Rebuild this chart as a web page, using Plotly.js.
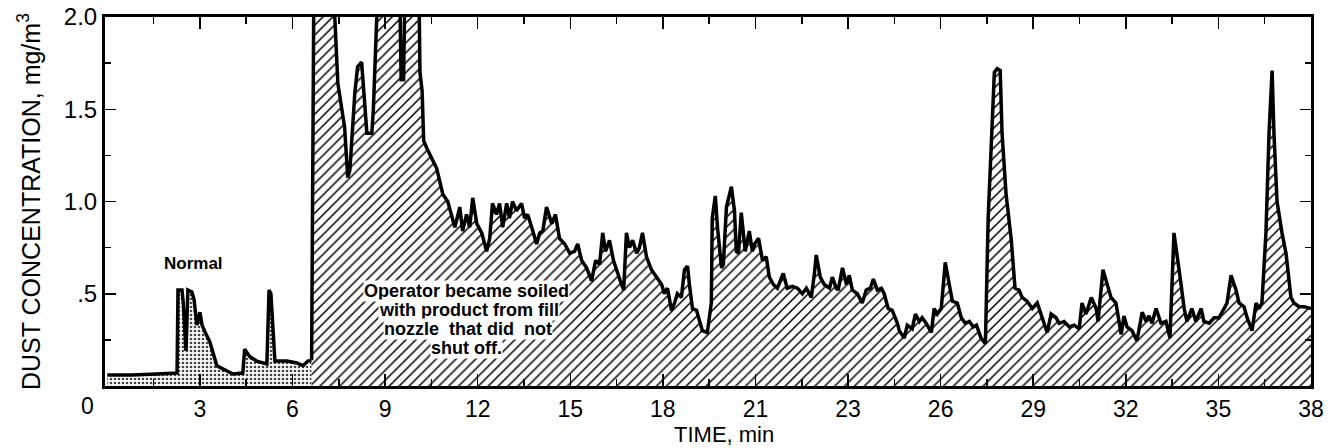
<!DOCTYPE html>
<html>
<head>
<meta charset="utf-8">
<script src="https://cdn.plot.ly/plotly-3.0.1.min.js"></script>
<style>html,body{margin:0;padding:0;background:#fff;}#chart{width:1335px;height:448px;}</style>
</head>
<body>
<div id="chart"></div>
<script>
// Normal operation (stippled) - time in axis positions, concentration mg/m3
const normalTime = [0, 0.8, 1.6, 2.26, 2.29, 2.42, 2.46, 2.55, 2.61, 2.74, 2.81, 2.90, 3.00, 3.07, 3.20, 3.32, 3.55, 4.07, 4.39, 4.45, 4.61, 4.84, 5.17, 5.24, 5.30, 5.43, 5.82, 6.14, 6.34, 6.50, 6.62];
const normalConc = [0.06, 0.06, 0.065, 0.07, 0.52, 0.52, 0.45, 0.19, 0.52, 0.51, 0.47, 0.33, 0.40, 0.33, 0.28, 0.24, 0.11, 0.065, 0.07, 0.20, 0.16, 0.135, 0.12, 0.52, 0.50, 0.135, 0.135, 0.125, 0.11, 0.135, 0.14];

// Operator soiled with product (hatched)
const soiledTime = [6.62, 6.70, 7.30, 7.37, 7.47, 7.60, 7.69, 7.79, 7.86, 8.02, 8.11, 8.24, 8.34, 8.41, 8.57, 8.62, 8.73, 8.80, 9.45, 9.52, 9.60, 9.66, 10.08, 10.13, 10.20, 10.25,
  10.35, 10.51, 10.67, 10.77, 10.87, 11.03, 11.16, 11.26, 11.42, 11.51, 11.64, 11.74, 11.84, 11.97, 12.13, 12.29, 12.39, 12.48, 12.61, 12.71, 12.81, 12.94, 13.03, 13.13,
  13.26, 13.42, 13.52, 13.62, 13.75, 13.91, 14.01, 14.11, 14.23, 14.40, 14.52, 14.65, 14.82, 14.98, 15.14, 15.24, 15.37, 15.53, 15.69, 15.82, 15.95, 16.05, 16.14, 16.27,
  16.40, 16.53, 16.66, 16.73, 16.82, 16.92, 17.02, 17.15, 17.24, 17.34, 17.47, 17.63, 17.79, 17.96, 18.05, 18.15, 18.28, 18.38, 18.47, 18.60, 18.70, 18.80, 18.86, 18.96,
  19.09, 19.19, 19.28, 19.44, 19.57, 19.60, 19.70, 19.77, 19.90, 19.96, 20.06, 20.22, 20.32, 20.38, 20.45, 20.54, 20.61, 20.67, 20.80, 20.90, 20.97, 21.10, 21.23, 21.35,
  21.45, 21.58, 21.71, 21.90, 22.03, 22.19, 22.36, 22.52, 22.65, 22.81, 22.91, 22.97, 23.10, 23.23, 23.40, 23.49, 23.62, 23.68, 23.82, 23.95, 24.04, 24.14, 24.30, 24.46,
  24.59, 24.72, 24.82, 24.95, 25.08, 25.17, 25.30, 25.43, 25.60, 25.66, 25.82, 25.92, 26.08, 26.18, 26.31, 26.40, 26.53, 26.70, 26.79, 26.89, 27.02, 27.15, 27.28, 27.38,
  27.54, 27.67, 27.80, 27.93, 28.06, 28.16, 28.31, 28.45, 28.54, 28.64, 28.74, 28.83, 28.93, 28.99, 29.12, 29.29, 29.41, 29.54, 29.64, 29.80, 29.97, 30.13, 30.29, 30.45,
  30.58, 30.74, 30.84, 31.00, 31.17, 31.33, 31.49, 31.58, 31.71, 31.88, 32.04, 32.10, 32.26, 32.39, 32.52, 32.68, 32.85, 32.94, 33.04, 33.20, 33.36, 33.53, 33.66, 33.75,
  33.85, 33.98, 34.14, 34.30, 34.43, 34.56, 34.66, 34.79, 34.89, 34.98, 35.14, 35.27, 35.44, 35.53, 35.70, 35.86, 36.02, 36.18, 36.28, 36.41, 36.57, 36.67, 36.83, 36.93,
  37.09, 37.22, 37.32, 37.41, 37.54, 37.64, 37.74, 37.80, 37.90, 38.06, 38.19, 38.35, 38.45, 38.61, 38.77, 39.0];
const soiledConc = [0.14, 2.4, 2.4, 2.0, 1.64, 1.49, 1.40, 1.13, 1.17, 1.59, 1.73, 1.755, 1.55, 1.37, 1.37, 1.50, 2.0, 2.4, 2.4, 1.66, 1.66, 2.4, 2.4, 1.70, 1.60, 1.33,
  1.29, 1.24, 1.18, 1.11, 1.04, 1.00, 0.91, 0.86, 0.97, 0.84, 0.93, 0.86, 1.02, 0.88, 0.83, 0.73, 0.80, 0.99, 0.93, 0.99, 0.86, 0.99, 0.91, 1.00,
  0.95, 0.99, 0.91, 0.93, 0.86, 0.77, 0.83, 0.84, 0.97, 0.88, 0.93, 0.80, 0.77, 0.72, 0.73, 0.77, 0.68, 0.64, 0.57, 0.68, 0.66, 0.83, 0.73, 0.79,
  0.68, 0.61, 0.55, 0.52, 0.83, 0.75, 0.79, 0.72, 0.75, 0.83, 0.70, 0.63, 0.59, 0.55, 0.50, 0.53, 0.41, 0.45, 0.50, 0.48, 0.63, 0.65, 0.55, 0.42,
  0.41, 0.35, 0.30, 0.29, 0.45, 0.91, 1.03, 0.86, 0.64, 0.66, 0.97, 1.08, 0.95, 0.73, 0.72, 0.94, 0.80, 0.73, 0.84, 0.73, 0.77, 0.80, 0.68, 0.70,
  0.59, 0.55, 0.53, 0.61, 0.53, 0.54, 0.53, 0.50, 0.53, 0.48, 0.61, 0.71, 0.59, 0.55, 0.53, 0.59, 0.53, 0.52, 0.64, 0.55, 0.60, 0.52, 0.50, 0.45,
  0.52, 0.53, 0.58, 0.52, 0.53, 0.50, 0.42, 0.41, 0.34, 0.30, 0.26, 0.33, 0.31, 0.39, 0.35, 0.37, 0.34, 0.29, 0.42, 0.39, 0.42, 0.67, 0.55, 0.46,
  0.45, 0.37, 0.34, 0.35, 0.32, 0.33, 0.26, 0.23, 0.91, 1.33, 1.70, 1.72, 1.71, 1.37, 1.04, 0.79, 0.53, 0.52, 0.48, 0.46, 0.42, 0.45, 0.37, 0.29,
  0.39, 0.37, 0.34, 0.35, 0.32, 0.33, 0.31, 0.45, 0.39, 0.48, 0.42, 0.35, 0.63, 0.55, 0.48, 0.45, 0.28, 0.38, 0.32, 0.30, 0.245, 0.40, 0.35, 0.38,
  0.34, 0.42, 0.34, 0.35, 0.26, 0.83, 0.72, 0.55, 0.42, 0.35, 0.42, 0.35, 0.42, 0.35, 0.34, 0.37, 0.37, 0.42, 0.45, 0.60, 0.52, 0.45, 0.43, 0.37,
  0.30, 0.45, 0.42, 0.45, 0.83, 1.37, 1.71, 1.37, 1.00, 0.83, 0.72, 0.48, 0.45, 0.43, 0.43, 0.42];

// Axis ticks (printed labels, equally spaced positions)
const xTickVals = [3, 6, 9, 12, 15, 18, 21, 24, 27, 30, 33, 36, 39];
const xTickText = ['3', '6', '9', '12', '15', '18', '21', '23', '26', '29', '32', '35', '38'];
const xMinorVals = [1.5, 4.5, 7.5, 10.5, 13.5, 16.5, 19.5, 22.5, 25.5, 28.5, 31.5, 34.5, 37.5];
const yTickVals = [0.5, 1.0, 1.5, 2.0];
const yTickText = ['.5', '1.0', '1.5', '2.0'];
const yMinorVals = [0.25, 0.75, 1.25, 1.75];

const annLines = ['Operator became soiled', 'with product from fill', 'nozzle\u00a0\u00a0that\u00a0did\u00a0\u00a0not', 'shut off.'];

const FONT = 'Liberation Sans, Arial, sans-serif';

const traces = [
  {
    x: normalTime, y: normalConc, type: 'scatter', mode: 'lines',
    line: {color: '#000', width: 3.5},
    fill: 'tozeroy', fillcolor: 'rgba(0,0,0,0)',
    fillpattern: {shape: '.', fgcolor: '#444', bgcolor: '#fff', size: 4, solidity: 0.35},
    hoverinfo: 'skip', showlegend: false
  },
  {
    x: soiledTime, y: soiledConc, type: 'scatter', mode: 'lines',
    line: {color: '#000', width: 3.5},
    fill: 'tozeroy', fillcolor: 'rgba(0,0,0,0)',
    fillpattern: {shape: '/', fgcolor: '#000', bgcolor: '#fff', size: 7, solidity: 0.22},
    hoverinfo: 'skip', showlegend: false
  }
];

const X0 = 105, W = 1206;
const pxX = function(p){ return (p - X0) / W; };
const pxY = function(p){ return (386 - p) / 369; };
const annotations = [
  {text: 'Normal', xref: 'paper', yref: 'paper', x: pxX(193), y: pxY(263), xanchor: 'center', yanchor: 'middle', showarrow: false,
   font: {family: FONT, size: 17, color: '#000', weight: 'bold'}},
  {text: '0', xref: 'paper', yref: 'paper', x: pxX(87), y: pxY(406), xanchor: 'center', yanchor: 'middle', showarrow: false,
   font: {family: FONT, size: 23, color: '#000'}},
  {text: 'TIME, min', xref: 'paper', yref: 'paper', x: pxX(724), y: pxY(434), xanchor: 'center', yanchor: 'middle', showarrow: false,
   font: {family: FONT, size: 22, color: '#000'}},
  {text: 'DUST CONCENTRATION, mg/m<sup>3</sup>', xref: 'paper', yref: 'paper', x: pxX(29), y: pxY(202),
   xanchor: 'center', yanchor: 'middle',
   textangle: -90, showarrow: false, font: {family: FONT, size: 25, color: '#000'}}
];
const lineY = [291, 310, 329, 348];
const lineX = [466, 469, 468, 466];
annLines.forEach(function(t, i){
  annotations.push({text: t, xref: 'paper', yref: 'paper', x: pxX(lineX[i]), y: pxY(lineY[i]),
    xanchor: 'center', yanchor: 'middle',
    showarrow: false, bgcolor: '#fff', borderpad: 0,
    font: {family: FONT, size: 18, color: '#000', weight: 'bold'}});
});

const layout = {
  width: 1335, height: 448,
  margin: {l: 105, r: 24, t: 17, b: 62, pad: 0},
  paper_bgcolor: '#fff', plot_bgcolor: '#fff',
  showlegend: false,
  xaxis: {
    range: [-0.075, 39.0], showgrid: false, zeroline: false,
    showline: true, linecolor: '#000', linewidth: 3, mirror: 'allticks',
    ticks: 'inside', ticklen: 12, tickwidth: 1.5, tickcolor: '#000',
    tickmode: 'array', tickvals: xTickVals, ticktext: xTickText,
    tickfont: {family: FONT, size: 23, color: '#000'},
    minor: {tickmode: 'array', tickvals: xMinorVals, ticks: 'inside', ticklen: 7, tickwidth: 1.5, tickcolor: '#000', showgrid: false}
  },
  yaxis: {
    range: [0, 2.0], showgrid: false, zeroline: false,
    showline: true, linecolor: '#000', linewidth: 3, mirror: 'allticks',
    ticks: 'inside', ticklen: 11, tickwidth: 1.5, tickcolor: '#000',
    tickmode: 'array', tickvals: yTickVals, ticktext: yTickText,
    tickfont: {family: FONT, size: 24, color: '#000'},
    minor: {tickmode: 'array', tickvals: yMinorVals, ticks: 'inside', ticklen: 6, tickwidth: 1.5, tickcolor: '#000', showgrid: false}
  },
  annotations: annotations
};

Plotly.newPlot('chart', traces, layout, {staticPlot: true, displayModeBar: false});
</script>
</body>
</html>
